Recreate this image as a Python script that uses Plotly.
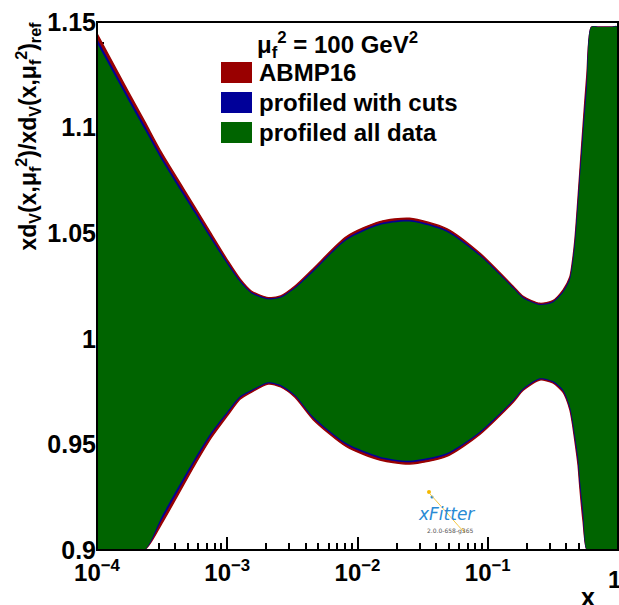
import numpy as np
import plotly.graph_objects as go

# ---------------- data ----------------
log_x = [-4.0, -3.76, -3.632, -3.503, -3.248, -3.12, -3.0, -2.9, -2.813, -2.685,
         -2.59, -2.48, -2.34, -2.084, -1.828, -1.6, -1.316, -1.061, -0.805, -0.728,
         -0.6, -0.5, -0.421, -0.37, -0.35, -0.332, -0.318, -0.306, -0.293, -0.268,
         -0.239, -0.204, -0.15, -0.1, -0.05, 0.0]

abmp16_up = [1.1445, 1.117, 1.1027, 1.088, 1.0624, 1.0494, 1.0374, 1.0282, 1.0225, 1.0195,
             1.0203, 1.0250, 1.0332, 1.0484, 1.0555, 1.0571, 1.0522, 1.0406, 1.0249, 1.0201,
             1.0168, 1.0181, 1.0232, 1.0293, 1.0365, 1.0461, 1.057, 1.0675, 1.079, 1.101,
             1.125, 1.155, 1.21, 1.26, 1.31, 1.36]
abmp16_lo = [0.8505, 0.880, 0.8963, 0.9125, 0.9404, 0.9534, 0.9635, 0.9715, 0.9748, 0.9786,
             0.9772, 0.9723, 0.9617, 0.9489, 0.9426, 0.9407, 0.9443, 0.9547, 0.970, 0.9756,
             0.9805, 0.9791, 0.9746, 0.9665, 0.960, 0.9521, 0.9459, 0.9399, 0.9297, 0.9135,
             0.894, 0.873, 0.82, 0.77, 0.72, 0.67]

cuts_up = [1.1418, 1.1146, 1.1005, 1.086, 1.0606, 1.0478, 1.0362, 1.0274, 1.0219, 1.019,
           1.0198, 1.0243, 1.0324, 1.0474, 1.0545, 1.0561, 1.0513, 1.0398, 1.0243, 1.0196,
           1.0163, 1.0176, 1.0225, 1.0284, 1.0353, 1.0446, 1.0552, 1.0654, 1.0766, 1.098,
           1.1214, 1.1508, 1.204, 1.254, 1.304, 1.354]
cuts_lo = [0.8532, 0.8824, 0.8985, 0.9145, 0.9422, 0.955, 0.9647, 0.9723, 0.9754, 0.9791,
           0.9777, 0.973, 0.9625, 0.9499, 0.9436, 0.9417, 0.9452, 0.9555, 0.9706, 0.9761,
           0.981, 0.9796, 0.9753, 0.9674, 0.9612, 0.9536, 0.9477, 0.942, 0.9321, 0.9165,
           0.8976, 0.8772, 0.826, 0.776, 0.726, 0.676]

all_up = [1.140, 1.113, 1.099, 1.0847, 1.0594, 1.0468, 1.0354, 1.0268, 1.0215, 1.0187,
          1.0194, 1.0239, 1.0318, 1.0468, 1.0539, 1.0555, 1.0507, 1.0393, 1.0239, 1.0192,
          1.0160, 1.0172, 1.0220, 1.0278, 1.0345, 1.0436, 1.054, 1.064, 1.075, 1.096,
          1.119, 1.148, 1.20, 1.25, 1.30, 1.35]
all_lo = [0.855, 0.884, 0.900, 0.9158, 0.9434, 0.956, 0.9655, 0.9729, 0.9758, 0.9794,
          0.9781, 0.9734, 0.9631, 0.9505, 0.9442, 0.9423, 0.9458, 0.9560, 0.9710, 0.9765,
          0.9813, 0.9800, 0.9758, 0.9680, 0.9620, 0.9546, 0.9489, 0.9434, 0.9337, 0.9185,
          0.9000, 0.880, 0.83, 0.78, 0.73, 0.68]

series_names = ["ABMP16", "profiled with cuts", "profiled all data"]
series_colors = ["#990000", "#000099", "#006400"]

y_ticks = [0.9, 0.95, 1.0, 1.05, 1.1, 1.15]
y_ticktext = ["0.9", "0.95", "1", "1.05", "1.1", "1.15"]
x_ticks = [1e-4, 1e-3, 1e-2, 1e-1]
x_ticktext = ["10<sup>\u22124</sup>", "10<sup>\u22123</sup>", "10<sup>\u22122</sup>",
              "10<sup>\u22121</sup>"]
x_last_tick = "1"

CLIP_LO, CLIP_HI = 0.9003, 1.1476

# ---------------- figure ----------------
W, H = 619, 605
ML, MR, MT, MB = 97, 1, 22, 55
PW, PH = W - ML - MR, H - MT - MB

def px2paper(px, py):
    return (px - ML) / PW, (H - MB - py) / PH

xv = 10 ** np.array(log_x)
FONT = "Liberation Sans"

fig = go.Figure()
bands = [(abmp16_up, abmp16_lo, 1.4), (cuts_up, cuts_lo, 0.8), (all_up, all_lo, 0)]
for (up, lo, lw), name, col in zip(bands, series_names, series_colors):
    u = np.clip(np.array(up), CLIP_LO, CLIP_HI)
    l = np.clip(np.array(lo), CLIP_LO, CLIP_HI)
    fig.add_trace(go.Scatter(
        x=np.concatenate([xv, xv[::-1]]),
        y=np.concatenate([u, l[::-1]]),
        fill="toself", fillcolor=col, mode="lines",
        line=dict(color=col, width=lw, shape="spline", smoothing=0.7),
        name=name, hoverinfo="skip", showlegend=False))

fig.update_layout(
    width=W, height=H,
    margin=dict(l=ML, r=MR, t=MT, b=MB, pad=0),
    paper_bgcolor="white", plot_bgcolor="white",
    showlegend=False,
    font=dict(family=FONT, color="black"),
    xaxis=dict(type="log", range=[-4, 0], showgrid=False, zeroline=False,
               showline=False, layer="below traces",
               tickmode="array", tickvals=x_ticks, ticktext=x_ticktext,
               ticks="inside", ticklen=13, tickwidth=1.5, tickcolor="black",
               tickfont=dict(family=FONT, size=24, color="black", weight="bold"),
               ticklabelstandoff=6,
               minor=dict(ticks="inside", ticklen=7, tickwidth=1.5, tickcolor="black",
                          dtick="D1", showgrid=False)),
    yaxis=dict(range=[0.9, 1.15], showgrid=False, zeroline=False,
               showline=False, layer="below traces",
               tickmode="array", tickvals=y_ticks, ticktext=y_ticktext,
               ticks="inside", ticklen=13, tickwidth=1.5, tickcolor="black",
               tickfont=dict(family=FONT, size=25, color="black", weight="bold"),
               minor=dict(ticks="inside", ticklen=7, tickwidth=1.5, tickcolor="black",
                          dtick=0.01, showgrid=False)),
)

# frame
fig.add_shape(type="rect", xref="paper", yref="paper", x0=0, x1=1, y0=0, y1=1,
              line=dict(color="black", width=2), layer="above")

anns = []
# last x tick label (sits at the very right edge, partly cut as in the reference)
tx, ty = px2paper(614, 579)
anns.append(dict(text=x_last_tick, x=tx, y=ty, xref="paper", yref="paper",
                 xanchor="center", yanchor="middle", showarrow=False,
                 font=dict(family=FONT, size=24, color="black", weight="bold")))
# y title
tx, ty = px2paper(28, 20)
anns.append(dict(text="xd<sub>V</sub>(x,\u03bc<sub>f</sub><sup>2</sup>)/xd<sub>V</sub>(x,\u03bc<sub>f</sub><sup>2</sup>)<sub>ref</sub>",
                 x=tx, y=ty, xref="paper", yref="paper", xanchor="center", yanchor="top",
                 textangle=-90, showarrow=False,
                 font=dict(family=FONT, size=23, color="black", weight="bold")))
# x title
tx, ty = px2paper(588, 597)
anns.append(dict(text="x", x=tx, y=ty, xref="paper", yref="paper",
                 xanchor="center", yanchor="middle", showarrow=False,
                 font=dict(family=FONT, size=25, color="black", weight="bold")))
# legend header
tx, ty = px2paper(255, 45)
anns.append(dict(text="\u03bc<sub>f</sub><sup>2</sup> = 100 GeV<sup>2</sup>", x=tx, y=ty,
                 xref="paper", yref="paper", xanchor="left", yanchor="middle",
                 showarrow=False,
                 font=dict(family=FONT, size=24, color="black", weight="bold")))
# legend entries
for i, (name, col) in enumerate(zip(series_names, series_colors)):
    top = 62 + 30 * i
    x0, y0 = px2paper(221, top + 21)
    x1, y1 = px2paper(252, top)
    fig.add_shape(type="rect", xref="paper", yref="paper", x0=x0, x1=x1, y0=y0, y1=y1,
                  fillcolor=col, line=dict(width=0), layer="above")
    tx, ty = px2paper(257, top + 10.5)
    anns.append(dict(text=name, x=tx, y=ty, xref="paper", yref="paper",
                     xanchor="left", yanchor="middle", showarrow=False,
                     font=dict(family=FONT, size=24, color="black", weight="bold")))

# xFitter logo
tx, ty = px2paper(446, 514)
anns.append(dict(text="<i>xFitter</i>", x=tx, y=ty, xref="paper", yref="paper",
                 xanchor="center", yanchor="middle", showarrow=False,
                 font=dict(family="DejaVu Sans", size=17, color="#2a8ad4")))
tx, ty = px2paper(450, 531)
anns.append(dict(text="2.0.0-658-g365", x=tx, y=ty, xref="paper", yref="paper",
                 xanchor="center", yanchor="middle", showarrow=False,
                 font=dict(family="DejaVu Sans", size=6, color="#555555")))
cx, cy = px2paper(429, 492)
fig.add_shape(type="circle", xref="paper", yref="paper",
              x0=cx - 2 / PW, x1=cx + 2 / PW, y0=cy - 2 / PH, y1=cy + 2 / PH,
              fillcolor="#f5b800", line=dict(width=0))
cx, cy = px2paper(432, 497)
fig.add_shape(type="circle", xref="paper", yref="paper",
              x0=cx - 1.5 / PW, x1=cx + 1.5 / PW, y0=cy - 1.5 / PH, y1=cy + 1.5 / PH,
              fillcolor="#2a8ad4", line=dict(width=0))
p = [px2paper(430, 494), px2paper(440, 505), px2paper(455, 522), px2paper(462, 528)]
fig.add_shape(type="path", xref="paper", yref="paper",
              path="M {:.4f},{:.4f} Q {:.4f},{:.4f} {:.4f},{:.4f} T {:.4f},{:.4f}".format(
                  p[0][0], p[0][1], p[1][0], p[1][1], p[2][0], p[2][1], p[3][0], p[3][1]),
              line=dict(color="#f5c842", width=1))

fig.update_layout(annotations=anns)
fig.write_html("out.html")
